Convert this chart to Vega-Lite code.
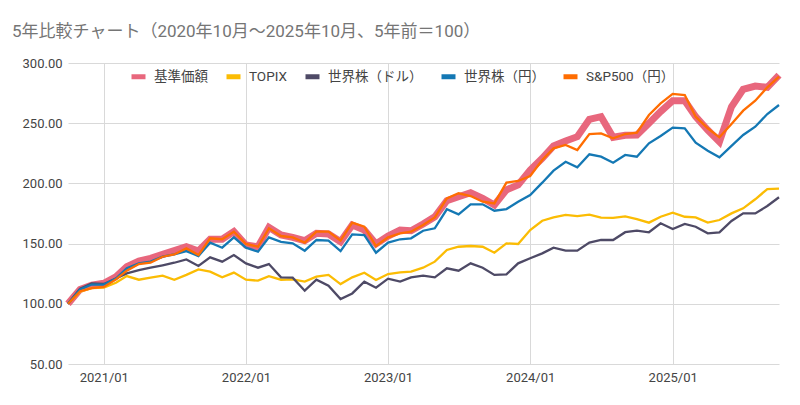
{
  "$schema": "https://vega.github.io/schema/vega-lite/v6.json",
  "width": 711,
  "height": 301,
  "autosize": {"type": "none"},
  "padding": {"left": 68, "top": 63, "right": 21, "bottom": 41},
  "background": "white",
  "config": {"view": {"stroke": null}},
  "title": {
    "text": "5年比較チャート（2020年10月〜2025年10月、5年前＝100）",
    "anchor": "start",
    "frame": "group",
    "dx": -56,
    "offset": 16,
    "fontSize": 17,
    "fontWeight": "normal",
    "color": "#757575",
    "font": "Roboto, Noto Sans CJK JP"
  },
  "data": {
    "values": [
      {"date": "2020-10-01", "基準価額": 100, "TOPIX": 100, "世界株（ドル）": 100, "世界株（円）": 100, "S&P500（円）": 100},
      {"date": "2020-11-01", "基準価額": 112, "TOPIX": 110, "世界株（ドル）": 112.5, "世界株（円）": 112, "S&P500（円）": 110.5},
      {"date": "2020-12-01", "基準価額": 115.5, "TOPIX": 113, "世界株（ドル）": 117, "世界株（円）": 116, "S&P500（円）": 113},
      {"date": "2021-01-01", "基準価額": 117, "TOPIX": 113.5, "世界株（ドル）": 116.5, "世界株（円）": 116, "S&P500（円）": 114},
      {"date": "2021-02-01", "基準価額": 122.5, "TOPIX": 117.5, "世界株（ドル）": 121, "世界株（円）": 121, "S&P500（円）": 120.3},
      {"date": "2021-03-01", "基準価額": 130.8, "TOPIX": 123, "世界株（ドル）": 125.3, "世界株（円）": 129.5, "S&P500（円）": 127.5},
      {"date": "2021-04-01", "基準価額": 135.5, "TOPIX": 120, "世界株（ドル）": 128, "世界株（円）": 133.6, "S&P500（円）": 133},
      {"date": "2021-05-01", "基準価額": 137.8, "TOPIX": 121.7, "世界株（ドル）": 130, "世界株（円）": 135, "S&P500（円）": 134.1},
      {"date": "2021-06-01", "基準価額": 141, "TOPIX": 123.4, "世界株（ドル）": 132, "世界株（円）": 139.1, "S&P500（円）": 139.1},
      {"date": "2021-07-01", "基準価額": 144.1, "TOPIX": 120, "世界株（ドル）": 134.1, "世界株（円）": 141, "S&P500（円）": 141},
      {"date": "2021-08-01", "基準価額": 147.4, "TOPIX": 124, "世界株（ドル）": 136.9, "世界株（円）": 143.8, "S&P500（円）": 146},
      {"date": "2021-09-01", "基準価額": 143.8, "TOPIX": 128.6, "世界株（ドル）": 131.4, "世界株（円）": 139.7, "S&P500（円）": 140.5},
      {"date": "2021-10-01", "基準価額": 153.6, "TOPIX": 126.7, "世界株（ドル）": 138.6, "世界株（円）": 150.8, "S&P500（円）": 154.4},
      {"date": "2021-11-01", "基準価額": 153.6, "TOPIX": 122, "世界株（ドル）": 135, "世界株（円）": 146.6, "S&P500（円）": 153.6},
      {"date": "2021-12-01", "基準価額": 159.9, "TOPIX": 125.9, "世界株（ドル）": 140.5, "世界株（円）": 155.2, "S&P500（円）": 159.9},
      {"date": "2022-01-01", "基準価額": 148.8, "TOPIX": 120, "世界株（ドル）": 133.6, "世界株（円）": 146.6, "S&P500（円）": 149.7},
      {"date": "2022-02-01", "基準価額": 147.4, "TOPIX": 119.2, "世界株（ドル）": 130, "世界株（円）": 143.3, "S&P500（円）": 147.4},
      {"date": "2022-03-01", "基準価額": 163.5, "TOPIX": 123, "世界株（ドル）": 133, "世界株（円）": 155.2, "S&P500（円）": 162.7},
      {"date": "2022-04-01", "基準価額": 157.1, "TOPIX": 120, "世界株（ドル）": 122, "世界株（円）": 151.5, "S&P500（円）": 156.3},
      {"date": "2022-05-01", "基準価額": 155.2, "TOPIX": 120.3, "世界株（ドル）": 121.7, "世界株（円）": 150.2, "S&P500（円）": 155.2},
      {"date": "2022-06-01", "基準価額": 152.4, "TOPIX": 118.4, "世界株（ドル）": 110.9, "世界株（円）": 144.1, "S&P500（円）": 150.8},
      {"date": "2022-07-01", "基準価額": 158.5, "TOPIX": 122.5, "世界株（ドル）": 120, "世界株（円）": 153, "S&P500（円）": 159.9},
      {"date": "2022-08-01", "基準価額": 158, "TOPIX": 124, "世界株（ドル）": 115, "世界株（円）": 152.4, "S&P500（円）": 159.9},
      {"date": "2022-09-01", "基準価額": 151.5, "TOPIX": 116.4, "世界株（ドル）": 103.9, "世界株（円）": 143.8, "S&P500（円）": 152.4},
      {"date": "2022-10-01", "基準価額": 165.4, "TOPIX": 122, "世界株（ドル）": 108.6, "世界株（円）": 157.7, "S&P500（円）": 167.4},
      {"date": "2022-11-01", "基準価額": 161.3, "TOPIX": 125.8, "世界株（ドル）": 118.3, "世界株（円）": 157.1, "S&P500（円）": 164},
      {"date": "2022-12-01", "基準価額": 149.7, "TOPIX": 119.8, "世界株（ドル）": 113.4, "世界株（円）": 142.4, "S&P500（円）": 148},
      {"date": "2023-01-01", "基準価額": 156.3, "TOPIX": 124.7, "世界株（ドル）": 120.9, "世界株（円）": 150.8, "S&P500（円）": 155.2},
      {"date": "2023-02-01", "基準価額": 161.3, "TOPIX": 126.1, "世界株（ドル）": 118.4, "世界株（円）": 153.6, "S&P500（円）": 158.5},
      {"date": "2023-03-01", "基準価額": 160.7, "TOPIX": 126.7, "世界株（ドル）": 122, "世界株（円）": 154.4, "S&P500（円）": 159.9},
      {"date": "2023-04-01", "基準価額": 166.3, "TOPIX": 130, "世界株（ドル）": 123.4, "世界株（円）": 160.7, "S&P500（円）": 165.4},
      {"date": "2023-05-01", "基準価額": 172.3, "TOPIX": 135, "世界株（ドル）": 122, "世界株（円）": 162.7, "S&P500（円）": 171.8},
      {"date": "2023-06-01", "基準価額": 185.6, "TOPIX": 144.7, "世界株（ドル）": 129.5, "世界株（円）": 178.5, "S&P500（円）": 187.6},
      {"date": "2023-07-01", "基準価額": 188.9, "TOPIX": 147.4, "世界株（ドル）": 127.5, "世界株（円）": 174.3, "S&P500（円）": 191.8},
      {"date": "2023-08-01", "基準価額": 192.3, "TOPIX": 148, "世界株（ドル）": 133.6, "世界株（円）": 182.6, "S&P500（円）": 189.5},
      {"date": "2023-09-01", "基準価額": 187.6, "TOPIX": 147.4, "世界株（ドル）": 130, "世界株（円）": 182.6, "S&P500（円）": 184.8},
      {"date": "2023-10-01", "基準価額": 182.1, "TOPIX": 142.4, "世界株（ドル）": 124, "世界株（円）": 177.3, "S&P500（円）": 183.4},
      {"date": "2023-11-01", "基準価額": 194.6, "TOPIX": 150.2, "世界株（ドル）": 124.5, "世界株（円）": 178.7, "S&P500（円）": 200.6},
      {"date": "2023-12-01", "基準価額": 198.7, "TOPIX": 149.7, "世界株（ドル）": 133.6, "世界株（円）": 184.8, "S&P500（円）": 202},
      {"date": "2024-01-01", "基準価額": 211.1, "TOPIX": 161.3, "世界株（ドル）": 137.8, "世界株（円）": 190.4, "S&P500（円）": 206.1},
      {"date": "2024-02-01", "基準価額": 220.8, "TOPIX": 169, "世界株（ドル）": 141.9, "世界株（円）": 200.6, "S&P500（円）": 219.4},
      {"date": "2024-03-01", "基準価額": 231.1, "TOPIX": 171.8, "世界株（ドル）": 146.6, "世界株（円）": 210.6, "S&P500（円）": 229.1},
      {"date": "2024-04-01", "基準価額": 235.2, "TOPIX": 173.8, "世界株（ドル）": 144.1, "世界株（円）": 218, "S&P500（円）": 231.9},
      {"date": "2024-05-01", "基準価額": 238.8, "TOPIX": 172.9, "世界株（ドル）": 144.1, "世界株（円）": 213.4, "S&P500（円）": 227.7},
      {"date": "2024-06-01", "基準価額": 253.2, "TOPIX": 174, "世界株（ドル）": 150.8, "世界株（円）": 224.2, "S&P500（円）": 241},
      {"date": "2024-07-01", "基準価額": 255.4, "TOPIX": 171.5, "世界株（ドル）": 153, "世界株（円）": 222.2, "S&P500（円）": 241.6},
      {"date": "2024-08-01", "基準価額": 238.3, "TOPIX": 171.3, "世界株（ドル）": 153, "世界株（円）": 217.2, "S&P500（円）": 237.5},
      {"date": "2024-09-01", "基準価額": 240, "TOPIX": 172.6, "世界株（ドル）": 159.5, "世界株（円）": 223.6, "S&P500（円）": 241},
      {"date": "2024-10-01", "基準価額": 240.2, "TOPIX": 170.4, "世界株（ドル）": 160.7, "世界株（円）": 222.2, "S&P500（円）": 242.1},
      {"date": "2024-11-01", "基準価額": 249.9, "TOPIX": 167.4, "世界株（ドル）": 159.4, "世界株（円）": 233.3, "S&P500（円）": 256.8},
      {"date": "2024-12-01", "基準価額": 259.6, "TOPIX": 172.3, "世界株（ドル）": 166.9, "世界株（円）": 239.4, "S&P500（円）": 266.5},
      {"date": "2025-01-01", "基準価額": 268.7, "TOPIX": 175.7, "世界株（ドル）": 162.1, "世界株（円）": 246.3, "S&P500（円）": 274.3},
      {"date": "2025-02-01", "基準価額": 268.7, "TOPIX": 172.3, "世界株（ドル）": 166.3, "世界株（円）": 245.8, "S&P500（円）": 273.4},
      {"date": "2025-03-01", "基準価額": 255.4, "TOPIX": 171.8, "世界株（ドル）": 164, "世界株（円）": 233.8, "S&P500（円）": 255.4},
      {"date": "2025-04-01", "基準価額": 244.3, "TOPIX": 167.4, "世界株（ドル）": 158.5, "世界株（円）": 227.2, "S&P500（円）": 245.8},
      {"date": "2025-05-01", "基準価額": 234.6, "TOPIX": 169.6, "世界株（ドル）": 159.4, "世界株（円）": 221.7, "S&P500（円）": 238.3},
      {"date": "2025-06-01", "基準価額": 263.7, "TOPIX": 175.1, "世界株（ドル）": 168.8, "世界株（円）": 231.1, "S&P500（円）": 249.3},
      {"date": "2025-07-01", "基準価額": 278.2, "TOPIX": 179.3, "世界株（ドル）": 175.1, "世界株（円）": 240.2, "S&P500（円）": 260.4},
      {"date": "2025-08-01", "基準価額": 280.9, "TOPIX": 186.8, "世界株（ドル）": 175.1, "世界株（円）": 247.1, "S&P500（円）": 268.7},
      {"date": "2025-09-01", "基準価額": 279.8, "TOPIX": 195.3, "世界株（ドル）": 181.2, "世界株（円）": 257.6, "S&P500（円）": 279.8},
      {"date": "2025-10-01", "基準価額": 290, "TOPIX": 195.6, "世界株（ドル）": 188.5, "世界株（円）": 265.1, "S&P500（円）": 288.6}
    ]
  },
  "transform": [
    {"fold": ["基準価額", "TOPIX", "世界株（ドル）", "世界株（円）", "S&P500（円）"], "as": ["series", "value"]}
  ],
  "encoding": {
    "x": {
      "field": "date",
      "type": "temporal",
      "title": null,
      "scale": {"type": "utc", "domain": ["2020-10-01", "2025-10-01"], "nice": false},
      "axis": {
        "labelExpr": "utcFormat(datum.value, '%Y/%m')",
        "tickCount": {"interval": "year", "step": 1},
        "grid": true,
        "gridColor": "#d9d9d9",
        "ticks": false,
        "domain": false,
        "labelPadding": 7,
        "labelFontSize": 13,
        "labelColor": "#444444",
        "labelFont": "Roboto",
        "labelFlush": false
      }
    },
    "y": {
      "field": "value",
      "type": "quantitative",
      "title": null,
      "scale": {"domain": [50, 300], "nice": false, "zero": false},
      "axis": {
        "values": [50, 100, 150, 200, 250, 300],
        "format": ".2f",
        "grid": true,
        "gridColor": "#d9d9d9",
        "ticks": false,
        "domain": false,
        "labelPadding": 6,
        "labelFontSize": 13,
        "labelColor": "#444444",
        "labelFont": "Roboto"
      }
    },
    "color": {
      "field": "series",
      "type": "nominal",
      "scale": {
        "domain": ["基準価額", "TOPIX", "世界株（ドル）", "世界株（円）", "S&P500（円）"],
        "range": ["#e8677d", "#fbbc04", "#4e4a66", "#1478b4", "#ff6d01"]
      },
      "legend": {
        "orient": "none",
        "legendX": 61,
        "legendY": 4,
        "direction": "horizontal",
        "title": null,
        "symbolType": "stroke",
        "symbolSize": 196,
        "symbolStrokeWidth": 5,
        "labelFontSize": 13.5,
        "labelColor": "#444444",
        "labelFont": "Roboto, Noto Sans CJK JP",
        "columnPadding": 8,
        "labelOffset": 6,
        "padding": 0
      }
    }
  },
  "layer": [
    {
      "transform": [{"filter": "datum.series === '基準価額'"}],
      "mark": {"type": "line", "strokeWidth": 7}
    },
    {
      "transform": [{"filter": "datum.series !== '基準価額'"}],
      "mark": {"type": "line", "strokeWidth": 2.3}
    }
  ]
}
